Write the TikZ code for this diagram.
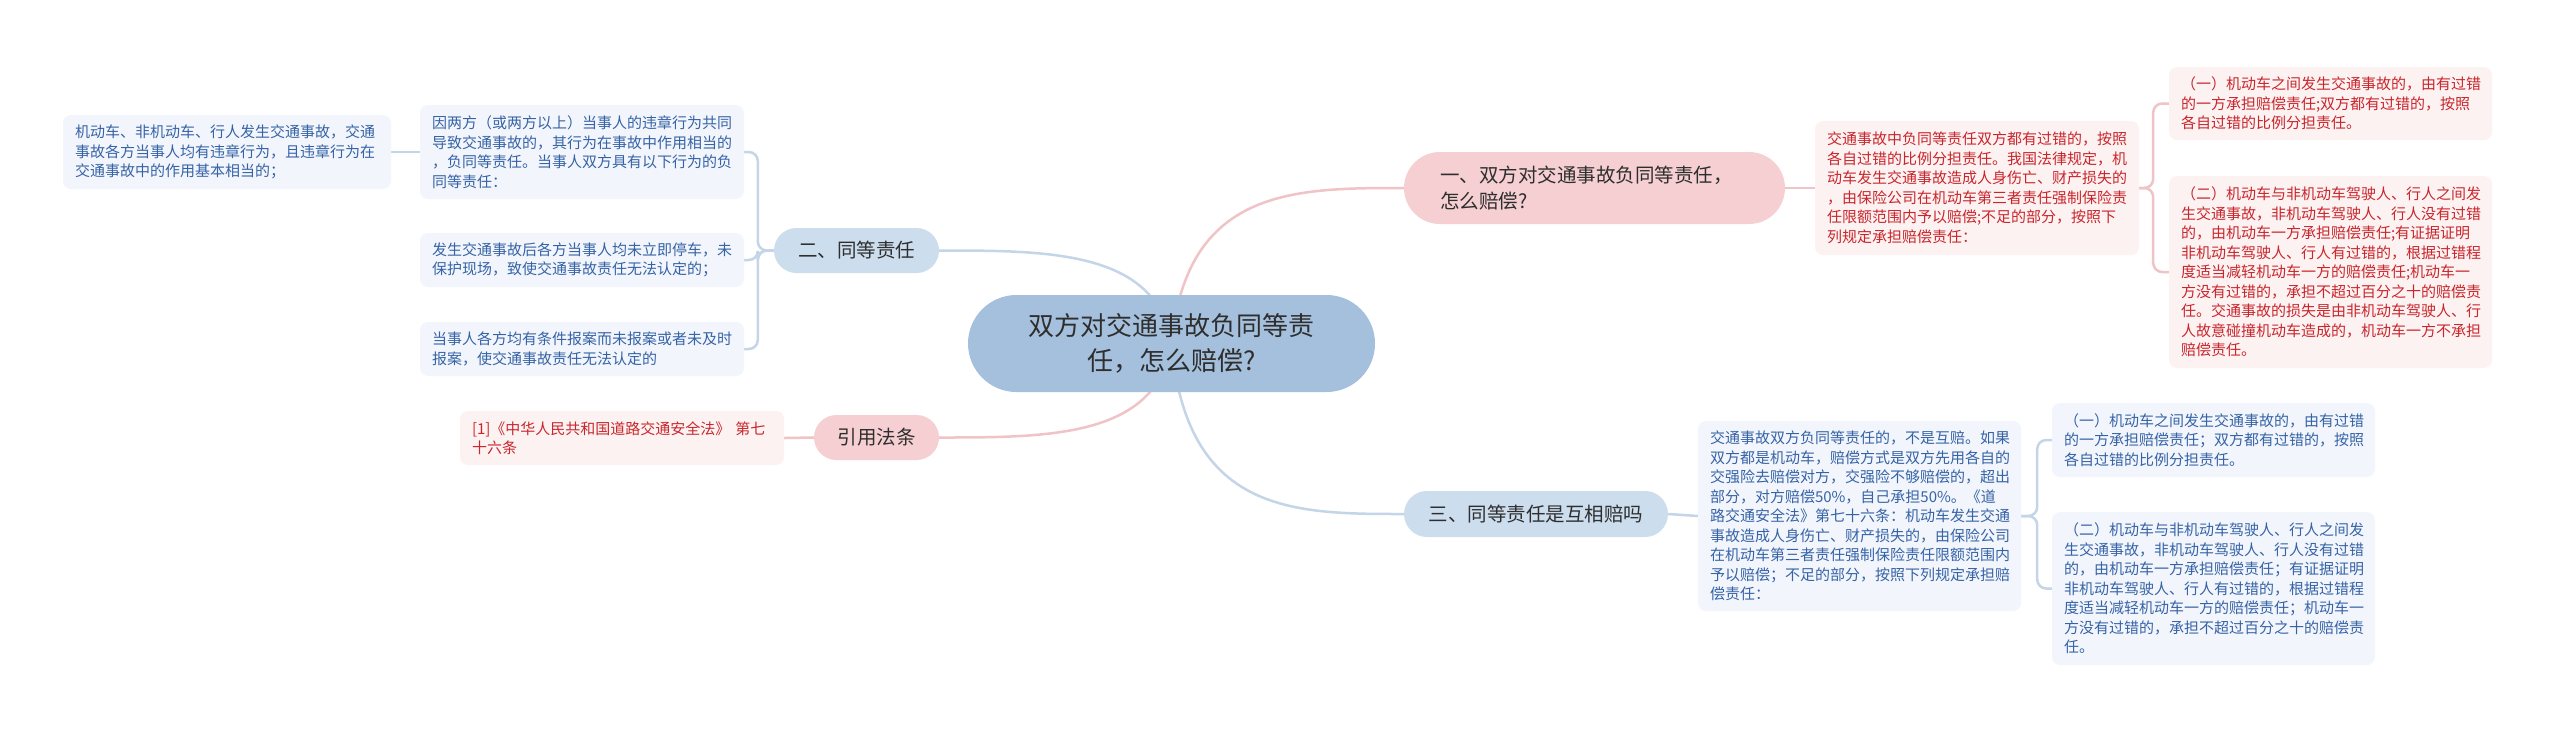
\documentclass[tikz,border=0pt]{standalone}
\usepackage{fontspec}
\newfontfamily\cjk{Noto Sans CJK SC}
\usetikzlibrary{calc}
\definecolor{mainfill}{HTML}{A5C0DD}
\definecolor{bluefill}{HTML}{CCDDEE}
\definecolor{pinkfill}{HTML}{F5CFD1}
\definecolor{redbox}{HTML}{FDF2F2}
\definecolor{bluebox}{HTML}{F2F6FC}
\definecolor{redtext}{HTML}{C8262C}
\definecolor{bluetext}{HTML}{3663A6}
\definecolor{titletext}{HTML}{2E2E2E}
\definecolor{pinkline}{HTML}{F0C3C6}
\definecolor{blueline}{HTML}{C4D5E8}
\pgfdeclarelayer{back}
\pgfdeclarelayer{bg}
\pgfsetlayers{back,bg,main}
\begin{document}
\begin{tikzpicture}[x=1pt,y=-1pt,
  pill/.style={rectangle, draw=none, inner sep=0pt, text=titletext,
    font=\cjk\fontsize{19.5}{26}\selectfont},
  bluepill/.style={pill, fill=bluefill},
  pinkpill/.style={pill, fill=pinkfill},
  tbox/.style={rectangle, rounded corners=8pt, draw=none, inner xsep=12pt, inner ysep=4pt,
    align=left, font=\cjk\fontsize{15}{19.5}\selectfont},
  rbox/.style={tbox, fill=redbox, text=redtext},
  bbox/.style={tbox, fill=bluebox, text=bluetext},
  pinkln/.style={draw=pinkline, line width=2.5pt},
  blueln/.style={draw=blueline, line width=2.5pt},
]
\begin{pgfonlayer}{back}
\fill[white] (0,0) rectangle (2560,732);
\end{pgfonlayer}
\useasboundingbox (0,0) rectangle (2560,732);

% central node
\node[pill, fill=mainfill, minimum width=407pt, minimum height=97pt, rounded corners=48.5pt,
  align=center, font=\cjk\fontsize{26}{35}\selectfont] (main) at (1171.5,343.5)
  {双方对交通事故负同等责\\任，怎么赔偿?};

% first-level nodes
\node[pinkpill, minimum height=72pt, rounded corners=36pt, text width=309pt, inner xsep=36pt,
  align=left] (one) at (1594.5,188) {一、双方对交通事故负同等责任，\\怎么赔偿?};
\node[bluepill, minimum width=264pt, minimum height=46pt, rounded corners=23pt] (three)
  at (1536,514) {三、同等责任是互相赔吗};
\node[bluepill, minimum width=165pt, minimum height=45pt, rounded corners=22.5pt] (two)
  at (856.5,250.5) {二、同等责任};
\node[pinkpill, minimum width=125pt, minimum height=45pt, rounded corners=22.5pt] (cite)
  at (876.5,437.5) {引用法条};

% branch 二
\node[bbox, text width=304pt, minimum height=74pt] (l0) at (227,152)
  {机动车、非机动车、行人发生交通事故，交通\\事故各方当事人均有违章行为，且违章行为在\\交通事故中的作用基本相当的；};
\node[bbox, text width=300pt, minimum height=94pt] (b1) at (582,152)
  {因两方（或两方以上）当事人的违章行为共同\\导致交通事故的，其行为在事故中作用相当的\\，负同等责任。当事人双方具有以下行为的负\\同等责任：};
\node[bbox, text width=300pt, minimum height=54pt] (b2) at (582,260)
  {发生交通事故后各方当事人均未立即停车，未\\保护现场，致使交通事故责任无法认定的；};
\node[bbox, text width=300pt, minimum height=54pt] (b3) at (582,349)
  {当事人各方均有条件报案而未报案或者未及时\\报案，使交通事故责任无法认定的};

% branch 引用法条
\node[rbox, text width=300pt, minimum height=54pt] (citec) at (622,438)
  {[1]《中华人民共和国道路交通安全法》 第七\\十六条};

% branch 一
\node[rbox, text width=300pt, minimum height=134pt] (onet) at (1977,188)
  {交通事故中负同等责任双方都有过错的，按照\\各自过错的比例分担责任。我国法律规定，机\\动车发生交通事故造成人身伤亡、财产损失的\\，由保险公司在机动车第三者责任强制保险责\\任限额范围内予以赔偿;不足的部分，按照下\\列规定承担赔偿责任：};
\node[rbox, text width=299pt, minimum height=73pt] (onec1) at (2330.5,103.5)
  {（一）机动车之间发生交通事故的，由有过错\\的一方承担赔偿责任;双方都有过错的，按照\\各自过错的比例分担责任。};
\node[rbox, text width=299pt, minimum height=192pt] (onec2) at (2330.5,272)
  {（二）机动车与非机动车驾驶人、行人之间发\\生交通事故，非机动车驾驶人、行人没有过错\\的，由机动车一方承担赔偿责任;有证据证明\\非机动车驾驶人、行人有过错的，根据过错程\\度适当减轻机动车一方的赔偿责任;机动车一\\方没有过错的，承担不超过百分之十的赔偿责\\任。交通事故的损失是由非机动车驾驶人、行\\人故意碰撞机动车造成的，机动车一方不承担\\赔偿责任。};

% branch 三
\node[bbox, text width=299pt, minimum height=190pt] (threet) at (1859.5,516)
  {交通事故双方负同等责任的，不是互赔。如果\\双方都是机动车，赔偿方式是双方先用各自的\\交强险去赔偿对方，交强险不够赔偿的，超出\\部分，对方赔偿50\%，自己承担50\%。《道\\路交通安全法》第七十六条：机动车发生交通\\事故造成人身伤亡、财产损失的，由保险公司\\在机动车第三者责任强制保险责任限额范围内\\予以赔偿；不足的部分，按照下列规定承担赔\\偿责任：};
\node[bbox, text width=299pt, minimum height=74pt] (threec1) at (2213.5,440)
  {（一）机动车之间发生交通事故的，由有过错\\的一方承担赔偿责任；双方都有过错的，按照\\各自过错的比例分担责任。};
\node[bbox, text width=299pt, minimum height=153pt] (threec2) at (2213.5,588.5)
  {（二）机动车与非机动车驾驶人、行人之间发\\生交通事故，非机动车驾驶人、行人没有过错\\的，由机动车一方承担赔偿责任；有证据证明\\非机动车驾驶人、行人有过错的，根据过错程\\度适当减轻机动车一方的赔偿责任；机动车一\\方没有过错的，承担不超过百分之十的赔偿责\\任。};

\begin{pgfonlayer}{bg}
  % from the central node
  \draw[pinkln] (main.center) .. controls ($(main.center|-one.west)+(15,0)$) and ($(one.west)+(-110,0)$) .. (one.west);
  \draw[blueln] (main.center) .. controls ($(main.center|-three.west)+(15,0)$) and ($(three.west)+(-110,0)$) .. (three.west);
  \draw[blueln] (main.center) .. controls ($(main.center|-two.east)+(-15,0)$) and ($(two.east)+(110,0)$) .. (two.east);
  \draw[pinkln] (main.center) .. controls ($(main.center|-cite.east)+(-15,0)$) and ($(cite.east)+(110,0)$) .. (cite.east);
  % straight links
  \draw[pinkln] (one.east) -- (onet.west);
  \draw[blueln] (three.east) -- (threet.west);
  \draw[pinkln] (cite.west) -- (citec.east);
  \draw[blueln] (b1.west) -- (l0.east);
  % brackets
  \draw[blueln, rounded corners=9pt] (two.west) -- ++(-16,0) |- (b1.east);
  \draw[blueln, rounded corners=9pt] (two.west) -- ++(-16,0) |- (b2.east);
  \draw[blueln, rounded corners=9pt] (two.west) -- ++(-16,0) |- (b3.east);
  \draw[pinkln, rounded corners=9pt] (onet.east) -- ++(14,0) |- (onec1.west);
  \draw[pinkln, rounded corners=9pt] (onet.east) -- ++(14,0) |- (onec2.west);
  \draw[blueln, rounded corners=9pt] (threet.east) -- ++(16,0) |- (threec1.west);
  \draw[blueln, rounded corners=9pt] (threet.east) -- ++(16,0) |- (threec2.west);
\end{pgfonlayer}
\end{tikzpicture}
\end{document}
